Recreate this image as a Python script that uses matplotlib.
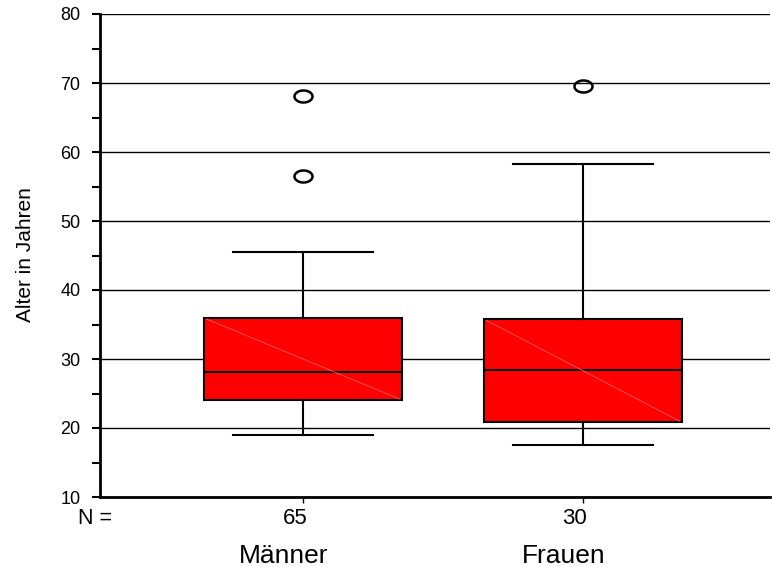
import numpy as np
import matplotlib.pyplot as plt
from matplotlib.path import Path
import matplotlib.transforms as mtransforms

plt.rcParams['font.family'] = ['Liberation Sans', 'DejaVu Sans']

groups = ['Männer', 'Frauen']
n_counts = [65, 30]
medians = [28.1, 28.4]
q1 = [24.0, 20.8]
q3 = [36.0, 35.8]
whis_low = [19.0, 17.6]
whis_high = [45.5, 58.3]
outliers = [[56.5, 68.1], [69.6]]

stats = []
for i in range(len(groups)):
    stats.append(dict(med=medians[i], q1=q1[i], q3=q3[i],
                      whislo=whis_low[i], whishi=whis_high[i],
                      fliers=outliers[i], label=str(n_counts[i])))

# wide ellipse marker like the original outlier circles
t = np.linspace(0, 2 * np.pi, 40)
ellipse = Path(np.column_stack([1.5 * np.cos(t), np.sin(t)]), closed=True)

fig = plt.figure(figsize=(7.72, 5.67), dpi=100)
ax = fig.add_axes([100 / 772, 70 / 567, 670 / 772, 483 / 567])

ax.set_ylim(10, 80)
ax.set_xlim(0.275, 2.668)
ax.set_yticks(np.arange(10, 81, 10))
ax.set_yticks(np.arange(15, 80, 10), minor=True)
ax.yaxis.grid(True, which='major', color='black', linewidth=1.0)
ax.set_axisbelow(True)

positions = [1, 2]
ax.bxp(stats, positions=positions, widths=0.71, capwidths=0.5,
       patch_artist=True,
       boxprops=dict(facecolor='#ff0000', edgecolor='black', linewidth=1.5),
       medianprops=dict(color='black', linewidth=1.5),
       whiskerprops=dict(color='black', linewidth=1.5),
       capprops=dict(color='black', linewidth=1.5),
       flierprops=dict(marker=ellipse, markersize=13, markerfacecolor='none',
                       markeredgecolor='black', markeredgewidth=1.8,
                       linestyle='none'))

# faint diagonal seen across the boxes
for i, p in enumerate(positions):
    ax.plot([p - 0.345, p + 0.345], [q3[i] - 0.2, q1[i] + 0.2],
            color='#ff6060', linewidth=0.6, zorder=3)

for s in ['top', 'right']:
    ax.spines[s].set_visible(False)
for s in ['left', 'bottom']:
    ax.spines[s].set_linewidth(2)

ax.tick_params(axis='y', which='both', direction='out', length=6, width=1.5,
               labelsize=13, pad=8)
ax.tick_params(axis='x', direction='out', length=4, width=1,
               labelsize=16, pad=4)
ax.set_xticks(positions)
ax.set_xticklabels([str(n) for n in n_counts])
shift = mtransforms.ScaledTranslation(-0.08, 0, fig.dpi_scale_trans)
for lab in ax.get_xticklabels():
    lab.set_transform(lab.get_transform() + shift)

trans = mtransforms.blended_transform_factory(ax.transData, ax.transAxes)
for p, g in zip(positions, groups):
    ax.text(p - 0.068, -0.1366, g, transform=trans, ha='center',
            va='baseline', fontsize=19)
ax.text(0.018, -0.056, 'N =', transform=ax.transAxes, ha='right',
        va='baseline', fontsize=15.5)

ax.set_ylabel('Alter in Jahren', fontsize=15)
ax.yaxis.set_label_coords(-0.097, 0.501)

fig.savefig('out.png', dpi=100)
